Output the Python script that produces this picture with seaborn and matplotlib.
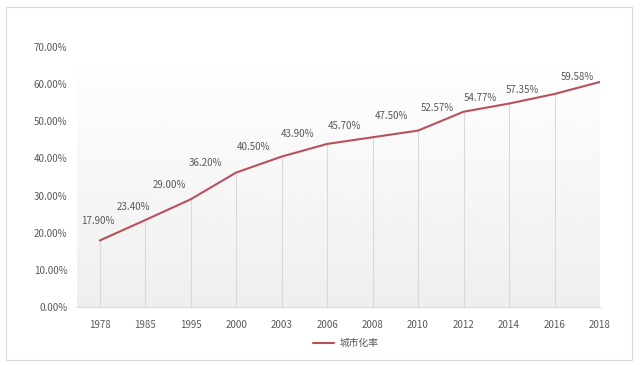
import matplotlib
matplotlib.use("Agg")
import matplotlib.pyplot as plt
import matplotlib.patches as patches
from matplotlib.lines import Line2D
import seaborn as sns
import numpy as np
import pandas as pd

years = ["1978", "1985", "1995", "2000", "2003", "2006", "2008", "2010", "2012", "2014", "2016", "2018"]
rate = [17.90, 23.40, 29.00, 36.20, 40.50, 43.90, 45.70, 47.50, 52.57, 54.77, 57.35, 60.60]
label_values = [17.90, 23.40, 29.00, 36.20, 40.50, 43.90, 45.70, 47.50, 52.57, 54.77, 57.35, 59.58]
series_name = "城市化率"

# where the data labels sit (offset from the category, height on the axis)
label_dx = [-0.05, -0.27, -0.46, -0.67, -0.61, -0.66, -0.63, -0.59, -0.58, -0.63, -0.70, -0.49]
label_y = [23.2, 27.0, 32.9, 38.8, 43.1, 46.6, 48.8, 51.5, 53.6, 56.3, 58.5, 62.0]

sns.set_theme(style="white")
plt.rcParams['font.family'] = ['Noto Sans CJK SC', 'DejaVu Sans']

df = pd.DataFrame({"pos": np.arange(len(years)), "rate": rate})
line_color = "#b9505c"
text_color = "#595959"

fig = plt.figure(figsize=(6.4, 3.65), dpi=100)
ax = fig.add_axes([77 / 640, 1 - 307 / 365, 523 / 640, 260 / 365])

# soft vertical gradient behind the plot
grad = np.linspace(1.0, 0.935, 256).reshape(-1, 1)
ax.imshow(grad, cmap="gray", vmin=0, vmax=1, aspect="auto",
          extent=[-0.5, len(years) - 1, 0, 70], zorder=0)

ax.vlines(df["pos"], 0, df["rate"], color="#d9d9d9", linewidth=0.8, zorder=1)
sns.lineplot(data=df, x="pos", y="rate", color=line_color, linewidth=1.5, ax=ax, zorder=3)

for i, v in enumerate(label_values):
    ax.text(i + label_dx[i], label_y[i], f"{v:.2f}%", ha="center", va="center",
            fontsize=7, color=text_color)

ax.set_xlim(-0.5, len(years) - 1)
ax.set_ylim(0, 70)
ax.set_xticks(df["pos"])
ax.set_xticklabels(years)
ax.set_yticks(np.arange(0, 71, 10))
ax.set_yticklabels([f"{t:.2f}%" for t in np.arange(0, 71, 10)])
ax.tick_params(axis="both", length=0, labelsize=7, labelcolor=text_color)
ax.tick_params(axis="x", pad=9)
ax.tick_params(axis="y", pad=7)
ax.set_xlabel("")
ax.set_ylabel("")
for side in ["top", "right", "left"]:
    ax.spines[side].set_visible(False)
ax.spines["bottom"].set_color("#d9d9d9")
ax.spines["bottom"].set_linewidth(0.8)
ax.spines["bottom"].set_zorder(2)

handle = Line2D([0], [0], color=line_color, linewidth=1.5)
fig.legend([handle], [series_name], loc="center", bbox_to_anchor=(0.54, 1 - 343 / 365),
           frameon=False, fontsize=7, handlelength=2.2, handletextpad=0.5,
           labelcolor=text_color)

fig.patches.append(patches.Rectangle((6 / 640, 1 - 360 / 365), 626 / 640, 353 / 365,
                                     transform=fig.transFigure, fill=False,
                                     edgecolor="#d9d9d9", linewidth=0.8))

fig.savefig("out.png", dpi=100)
